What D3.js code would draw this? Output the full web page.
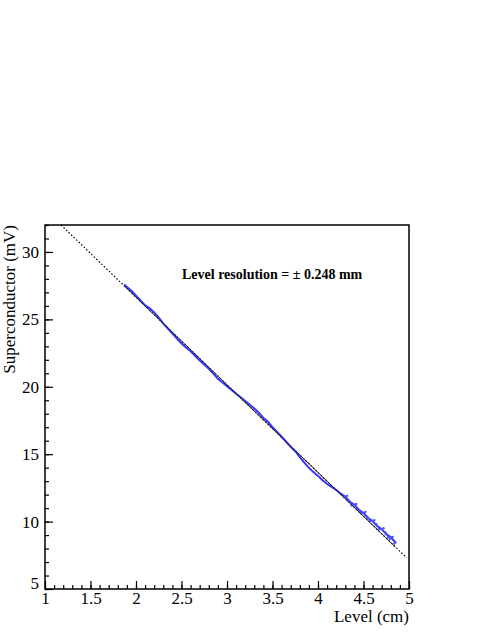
<!DOCTYPE html>
<html><head><meta charset="utf-8">
<script src="https://cdn.jsdelivr.net/npm/d3@7"></script>
<style>body{margin:0;background:#fff}svg{display:block}text{font-family:"Liberation Serif","Times New Roman",serif}</style>
</head><body>
<script>
// Data
const levelMain = [1.87,1.90,1.95,2.00,2.05,2.10,2.15,2.20,2.25,2.30,2.35,2.40,2.45,2.50,2.55,2.60,2.65,2.70,2.75,2.80,2.85,2.90,2.95,3.00,3.05,3.10,3.15,3.20,3.25,3.30,3.35,3.40,3.45,3.50,3.55,3.60,3.65,3.70,3.75,3.80,3.85,3.90,3.95,4.00,4.05,4.10,4.15,4.20,4.25,4.30,4.35,4.40,4.45,4.50,4.55,4.60,4.65,4.70,4.75,4.80,4.85];
const voltMain = [27.59,27.41,27.12,26.76,26.40,26.04,25.82,25.52,25.12,24.69,24.32,23.94,23.57,23.21,22.92,22.64,22.30,21.94,21.65,21.34,20.97,20.59,20.32,20.04,19.77,19.49,19.22,18.94,18.67,18.39,18.07,17.69,17.40,17.01,16.65,16.29,15.92,15.54,15.22,14.79,14.37,13.99,13.67,13.39,13.07,12.79,12.57,12.34,12.07,11.84,11.47,11.24,10.87,10.64,10.27,10.04,9.67,9.44,9.07,8.84,8.47];
const levelScatter = [4.32,4.37,4.42,4.47,4.52,4.57,4.62,4.67,4.72,4.77,4.82,4.84,4.34,4.44,4.54,4.64,4.74,4.79];
const voltScatter = [11.91,11.19,11.31,10.64,10.71,10.04,10.11,9.44,9.51,8.84,8.86,8.38,11.50,10.90,10.35,9.80,9.20,8.70];
// linear fit: V = fitIntercept + fitSlope * level
const fitIntercept = 39.644, fitSlope = -6.5;
const fitRange = [1.87, 4.85];
const xTicks = [1,1.5,2,2.5,3,3.5,4,4.5,5];
const yTicks = [5,10,15,20,25,30];
const xTitle = "Level (cm)", yTitle = "Superconductor (mV)";
const annotation = "Level resolution = \u00b1 0.248 mm";

const W = 491, H = 635;
const m = {l:45, r:82, t:225, b:46};
const svg = d3.select("body").append("svg").attr("width",W).attr("height",H);
const x = d3.scaleLinear().domain([1,5]).range([m.l, W-m.r]);
const y = d3.scaleLinear().domain([5,32]).range([H-m.b, m.t]);

// dotted fit line across the full frame
const xs0 = (32 - fitIntercept)/fitSlope, xs1 = 4.975;
svg.append("line").attr("x1",x(xs0)).attr("y1",y(fitIntercept+fitSlope*xs0))
  .attr("x2",x(xs1)).attr("y2",y(fitIntercept+fitSlope*xs1))
  .attr("stroke","#000").attr("stroke-width",1.2).attr("stroke-dasharray","1.5,2");

// data
const pts = levelMain.map((v,i)=>[v,voltMain[i]]);
svg.append("path").datum(pts).attr("fill","none").attr("stroke","#3535ff").attr("stroke-width",2)
  .attr("d", d3.line().x(d=>x(d[0])).y(d=>y(d[1])));
const sc = levelScatter.map((v,i)=>[v,voltScatter[i]]);
svg.append("g").selectAll("circle").data(sc.concat(pts.filter(d=>d[0]>4.25))).join("circle")
  .attr("cx",d=>x(d[0])).attr("cy",d=>y(d[1])).attr("r",1.2).attr("fill","#5050ff");

// solid fit over data range
svg.append("line").attr("x1",x(fitRange[0])).attr("y1",y(fitIntercept+fitSlope*fitRange[0]))
  .attr("x2",x(fitRange[1])).attr("y2",y(fitIntercept+fitSlope*fitRange[1]))
  .attr("stroke","#222").attr("stroke-width",1);

// frame
svg.append("rect").attr("x",m.l).attr("y",m.t).attr("width",W-m.r-m.l).attr("height",H-m.b-m.t)
  .attr("fill","none").attr("stroke","#000").attr("stroke-width",1.5);

// x axis
const xa = svg.append("g").attr("transform",`translate(0,${H-m.b})`);
xa.call(d3.axisBottom(x).ticks(40).tickSize(-4).tickFormat("")).call(g=>{g.select(".domain").remove();g.selectAll("line").attr("stroke-width",1.2);});
const xa2 = svg.append("g").attr("transform",`translate(0,${H-m.b})`);
xa2.call(d3.axisBottom(x).tickValues(xTicks).tickSize(-8).tickPadding(3).tickFormat(d3.format("")))
  .call(g=>{g.select(".domain").remove();g.selectAll("line").attr("stroke-width",1.2);
    g.selectAll("text").attr("font-size",17).attr("fill","#000").attr("font-family","Liberation Serif");});

// y axis
const ya = svg.append("g").attr("transform",`translate(${m.l},0)`);
ya.call(d3.axisLeft(y).tickValues(d3.range(5,33,1)).tickSize(-4).tickFormat("")).call(g=>{g.select(".domain").remove();g.selectAll("line").attr("stroke-width",1.2);});
const ya2 = svg.append("g").attr("transform",`translate(${m.l},0)`);
ya2.call(d3.axisLeft(y).tickValues(yTicks).tickSize(-8).tickPadding(6).tickFormat(d3.format("")))
  .call(g=>{g.select(".domain").remove();g.selectAll("line").attr("stroke-width",1.2);
    g.selectAll("text").attr("font-size",17).attr("fill","#000").attr("font-family","Liberation Serif");});
ya2.selectAll(".tick").filter(d=>d===5).select("text").attr("dy","-0.05em");

// titles
svg.append("text").attr("x",W-m.r).attr("y",622).attr("text-anchor","end").attr("font-size",17).text(xTitle);
svg.append("text").attr("transform",`translate(15,${m.t}) rotate(-90)`).attr("text-anchor","end").attr("font-size",17).text(yTitle);

// annotation
svg.append("text").attr("x",182).attr("y",279).attr("font-size",14).attr("font-weight","bold").text(annotation);
</script>
</body></html>
